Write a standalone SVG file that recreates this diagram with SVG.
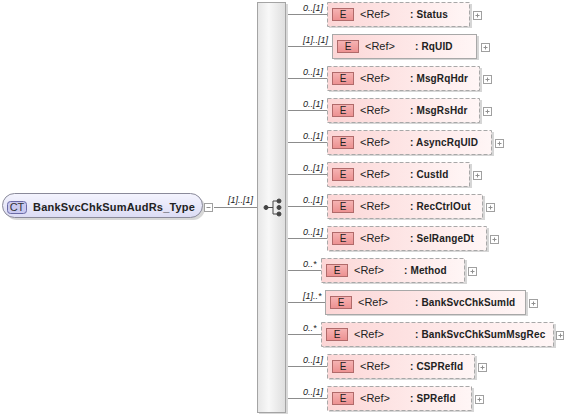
<svg xmlns="http://www.w3.org/2000/svg" width="564" height="417" viewBox="0 0 564 417">
<defs>
<linearGradient id="gEl" x1="0" y1="0" x2="1" y2="0">
<stop offset="0" stop-color="#fcd6d6"/>
<stop offset="1" stop-color="#fff6f6"/>
</linearGradient>
<linearGradient id="gBadge" x1="0" y1="0" x2="0" y2="1">
<stop offset="0" stop-color="#f6b4b4"/>
<stop offset="1" stop-color="#ec9090"/>
</linearGradient>
<linearGradient id="gCT" x1="0" y1="0" x2="0" y2="1">
<stop offset="0" stop-color="#f4f4fe"/>
<stop offset="1" stop-color="#dcdcf4"/>
</linearGradient>
<linearGradient id="gBar" x1="0" y1="0" x2="1" y2="0">
<stop offset="0" stop-color="#e6e6e6"/>
<stop offset="0.4" stop-color="#f8f8f8"/>
<stop offset="1" stop-color="#dedede"/>
</linearGradient>
</defs>
<style>
.sh{fill:#d6d6d6}
.box{fill:url(#gEl);stroke:#a8a8a8;stroke-width:1}
.opt{stroke-dasharray:4 2}
.badge{fill:url(#gBadge);stroke:#b06a6a;stroke-width:1}
.bt{font-family:"Liberation Sans",Arial,sans-serif;font-size:10px;fill:#222;text-anchor:middle}
.ref{font-family:"Liberation Sans",Arial,sans-serif;font-size:11px;fill:#222}
.nm{font-family:"Liberation Sans",Arial,sans-serif;font-size:10px;font-weight:bold;fill:#222;letter-spacing:0.15px}
.mul{font-family:"Liberation Sans",Arial,sans-serif;font-size:9px;font-style:italic;fill:#222}
.pl{fill:#fff;stroke:#a0a0a0;stroke-width:1}
.plc{stroke:#909090;stroke-width:1}
.cn{stroke:#8c8c8c;stroke-width:1;fill:none}
</style>

<g id="connectors">
<line class="cn" x1="214" y1="207.5" x2="257" y2="207.5"/>
<line class="cn" x1="286" y1="14.5" x2="327" y2="14.5"/>
<line class="cn" x1="286" y1="46.5" x2="332" y2="46.5"/>
<line class="cn" x1="286" y1="78.5" x2="327" y2="78.5"/>
<line class="cn" x1="286" y1="110.5" x2="327" y2="110.5"/>
<line class="cn" x1="286" y1="142.5" x2="327" y2="142.5"/>
<line class="cn" x1="286" y1="174.5" x2="327" y2="174.5"/>
<line class="cn" x1="286" y1="206.5" x2="327" y2="206.5"/>
<line class="cn" x1="286" y1="238.5" x2="327" y2="238.5"/>
<line class="cn" x1="286" y1="270.5" x2="321" y2="270.5"/>
<line class="cn" x1="286" y1="302.5" x2="325" y2="302.5"/>
<line class="cn" x1="286" y1="334.5" x2="321" y2="334.5"/>
<line class="cn" x1="286" y1="366.5" x2="327" y2="366.5"/>
<line class="cn" x1="286" y1="398.5" x2="327" y2="398.5"/>
<text class="mul" x="228" y="203">[1]..[1]</text>
<text class="mul" x="303" y="11">0..[1]</text>
<text class="mul" x="303" y="43">[1]..[1]</text>
<text class="mul" x="303" y="75">0..[1]</text>
<text class="mul" x="303" y="107">0..[1]</text>
<text class="mul" x="303" y="139">0..[1]</text>
<text class="mul" x="303" y="171">0..[1]</text>
<text class="mul" x="303" y="203">0..[1]</text>
<text class="mul" x="303" y="235">0..[1]</text>
<text class="mul" x="303" y="267">0..*</text>
<text class="mul" x="303" y="299">[1]..*</text>
<text class="mul" x="303" y="331">0..*</text>
<text class="mul" x="303" y="363">0..[1]</text>
<text class="mul" x="303" y="395">0..[1]</text>
</g>

<g id="ct">
<rect x="5" y="196" width="200" height="24" rx="12" fill="#d8d8d8"/>
<rect x="2.5" y="193.5" width="200" height="24" rx="12" fill="url(#gCT)" stroke="#8a8a9a"/>
<rect x="7.5" y="201.5" width="19" height="12" rx="3" fill="#c9c9f0" stroke="#6a6aa6"/>
<text x="17" y="211" font-family="Liberation Sans, Arial, sans-serif" font-size="11" fill="#333" text-anchor="middle">CT</text>
<text x="33" y="211" font-family="Liberation Sans, Arial, sans-serif" font-size="11" font-weight="bold" fill="#222" letter-spacing="0.2">BankSvcChkSumAudRs_Type</text>
<rect x="204.5" y="203.5" width="8" height="8" class="pl"/>
<line x1="206.5" y1="207.5" x2="210.5" y2="207.5" class="plc"/>
</g>

<g id="sequence">
<rect x="259" y="4" width="29" height="410" fill="#d8d8d8"/>
<rect x="257.5" y="2.5" width="28" height="410" fill="url(#gBar)" stroke="#a4a4a4"/>
<g fill="#444" stroke="#444" stroke-width="1">
<circle cx="266" cy="207.5" r="2"/>
<line x1="266" y1="207.5" x2="273" y2="207.5"/>
<line x1="273" y1="201" x2="273" y2="214"/>
<line x1="273" y1="201" x2="278" y2="201"/>
<line x1="273" y1="214" x2="278" y2="214"/>
<circle cx="279" cy="201" r="2"/>
<circle cx="279" cy="207.5" r="2"/>
<circle cx="279" cy="214" r="2"/>
</g>
</g>

<g id="el-Status">
<rect class="sh" x="329" y="4" width="143" height="24"/>
<rect class="box opt" x="327.5" y="2.5" width="142" height="24"/>
<rect class="badge" x="332.5" y="8.5" width="21" height="12"/>
<text class="bt" x="343" y="18">E</text>
<text class="ref" x="360" y="18">&lt;Ref&gt;</text>
<text class="nm" x="410" y="18">: Status</text>
<rect class="pl" x="473.5" y="11.5" width="8" height="8"/><path class="plc" d="M475.5 15.5h4M477.5 13.5v4"/>
</g>

<g id="el-RqUID">
<rect class="sh" x="334" y="36" width="145" height="24"/>
<rect class="box" x="332.5" y="34.5" width="144" height="24"/>
<rect class="badge" x="337.5" y="40.5" width="21" height="12"/>
<text class="bt" x="348" y="50">E</text>
<text class="ref" x="365" y="50">&lt;Ref&gt;</text>
<text class="nm" x="415" y="50">: RqUID</text>
<rect class="pl" x="481.5" y="43.5" width="8" height="8"/><path class="plc" d="M483.5 47.5h4M485.5 45.5v4"/>
</g>

<g id="el-MsgRqHdr">
<rect class="sh" x="329" y="68" width="153" height="24"/>
<rect class="box opt" x="327.5" y="66.5" width="152" height="24"/>
<rect class="badge" x="332.5" y="72.5" width="21" height="12"/>
<text class="bt" x="343" y="82">E</text>
<text class="ref" x="360" y="82">&lt;Ref&gt;</text>
<text class="nm" x="410" y="82">: MsgRqHdr</text>
<rect class="pl" x="483.5" y="75.5" width="8" height="8"/><path class="plc" d="M485.5 79.5h4M487.5 77.5v4"/>
</g>

<g id="el-MsgRsHdr">
<rect class="sh" x="329" y="100" width="153" height="24"/>
<rect class="box opt" x="327.5" y="98.5" width="152" height="24"/>
<rect class="badge" x="332.5" y="104.5" width="21" height="12"/>
<text class="bt" x="343" y="114">E</text>
<text class="ref" x="360" y="114">&lt;Ref&gt;</text>
<text class="nm" x="410" y="114">: MsgRsHdr</text>
<rect class="pl" x="483.5" y="107.5" width="8" height="8"/><path class="plc" d="M485.5 111.5h4M487.5 109.5v4"/>
</g>

<g id="el-AsyncRqUID">
<rect class="sh" x="329" y="132" width="165" height="24"/>
<rect class="box opt" x="327.5" y="130.5" width="164" height="24"/>
<rect class="badge" x="332.5" y="136.5" width="21" height="12"/>
<text class="bt" x="343" y="146">E</text>
<text class="ref" x="360" y="146">&lt;Ref&gt;</text>
<text class="nm" x="410" y="146">: AsyncRqUID</text>
<rect class="pl" x="495.5" y="139.5" width="8" height="8"/><path class="plc" d="M497.5 143.5h4M499.5 141.5v4"/>
</g>

<g id="el-CustId">
<rect class="sh" x="329" y="164" width="143" height="24"/>
<rect class="box opt" x="327.5" y="162.5" width="142" height="24"/>
<rect class="badge" x="332.5" y="168.5" width="21" height="12"/>
<text class="bt" x="343" y="178">E</text>
<text class="ref" x="360" y="178">&lt;Ref&gt;</text>
<text class="nm" x="410" y="178">: CustId</text>
<rect class="pl" x="473.5" y="171.5" width="8" height="8"/><path class="plc" d="M475.5 175.5h4M477.5 173.5v4"/>
</g>

<g id="el-RecCtrlOut">
<rect class="sh" x="329" y="196" width="156" height="24"/>
<rect class="box opt" x="327.5" y="194.5" width="155" height="24"/>
<rect class="badge" x="332.5" y="200.5" width="21" height="12"/>
<text class="bt" x="343" y="210">E</text>
<text class="ref" x="360" y="210">&lt;Ref&gt;</text>
<text class="nm" x="410" y="210">: RecCtrlOut</text>
<rect class="pl" x="486.5" y="203.5" width="8" height="8"/><path class="plc" d="M488.5 207.5h4M490.5 205.5v4"/>
</g>

<g id="el-SelRangeDt">
<rect class="sh" x="329" y="228" width="160" height="24"/>
<rect class="box opt" x="327.5" y="226.5" width="159" height="24"/>
<rect class="badge" x="332.5" y="232.5" width="21" height="12"/>
<text class="bt" x="343" y="242">E</text>
<text class="ref" x="360" y="242">&lt;Ref&gt;</text>
<text class="nm" x="410" y="242">: SelRangeDt</text>
<rect class="pl" x="490.5" y="235.5" width="8" height="8"/><path class="plc" d="M492.5 239.5h4M494.5 237.5v4"/>
</g>

<g id="el-Method">
<rect class="sh" x="323" y="260" width="144" height="24"/>
<rect class="box opt" x="321.5" y="258.5" width="143" height="24"/>
<rect class="badge" x="326.5" y="264.5" width="21" height="12"/>
<text class="bt" x="337" y="274">E</text>
<text class="ref" x="354" y="274">&lt;Ref&gt;</text>
<text class="nm" x="404" y="274">: Method</text>
<rect class="pl" x="468.5" y="267.5" width="8" height="8"/><path class="plc" d="M470.5 271.5h4M472.5 269.5v4"/>
</g>

<g id="el-BankSvcChkSumId">
<rect class="sh" x="327" y="292" width="201" height="24"/>
<rect class="box" x="325.5" y="290.5" width="200" height="24"/>
<rect class="badge" x="330.5" y="296.5" width="21" height="12"/>
<text class="bt" x="341" y="306">E</text>
<text class="ref" x="358" y="306">&lt;Ref&gt;</text>
<text class="nm" x="415" y="306">: BankSvcChkSumId</text>
<rect class="pl" x="529.5" y="299.5" width="8" height="8"/><path class="plc" d="M531.5 303.5h4M533.5 301.5v4"/>
</g>

<g id="el-BankSvcChkSumMsgRec">
<rect class="sh" x="323" y="324" width="233" height="24"/>
<rect class="box opt" x="321.5" y="322.5" width="232" height="24"/>
<rect class="badge" x="326.5" y="328.5" width="21" height="12"/>
<text class="bt" x="337" y="338">E</text>
<text class="ref" x="354" y="338">&lt;Ref&gt;</text>
<text class="nm" x="415" y="338">: BankSvcChkSumMsgRec</text>
<rect class="pl" x="556.5" y="331.5" width="7" height="8"/><path class="plc" d="M558.5 335.5h4M560.5 333.5v4"/>
</g>

<g id="el-CSPRefId">
<rect class="sh" x="329" y="356" width="148" height="24"/>
<rect class="box opt" x="327.5" y="354.5" width="147" height="24"/>
<rect class="badge" x="332.5" y="360.5" width="21" height="12"/>
<text class="bt" x="343" y="370">E</text>
<text class="ref" x="360" y="370">&lt;Ref&gt;</text>
<text class="nm" x="410" y="370">: CSPRefId</text>
<rect class="pl" x="478.5" y="363.5" width="8" height="8"/><path class="plc" d="M480.5 367.5h4M482.5 365.5v4"/>
</g>

<g id="el-SPRefId">
<rect class="sh" x="329" y="388" width="145" height="24"/>
<rect class="box opt" x="327.5" y="386.5" width="144" height="24"/>
<rect class="badge" x="332.5" y="392.5" width="21" height="12"/>
<text class="bt" x="343" y="402">E</text>
<text class="ref" x="360" y="402">&lt;Ref&gt;</text>
<text class="nm" x="410" y="402">: SPRefId</text>
<rect class="pl" x="475.5" y="395.5" width="8" height="8"/><path class="plc" d="M477.5 399.5h4M479.5 397.5v4"/>
</g>
</svg>
